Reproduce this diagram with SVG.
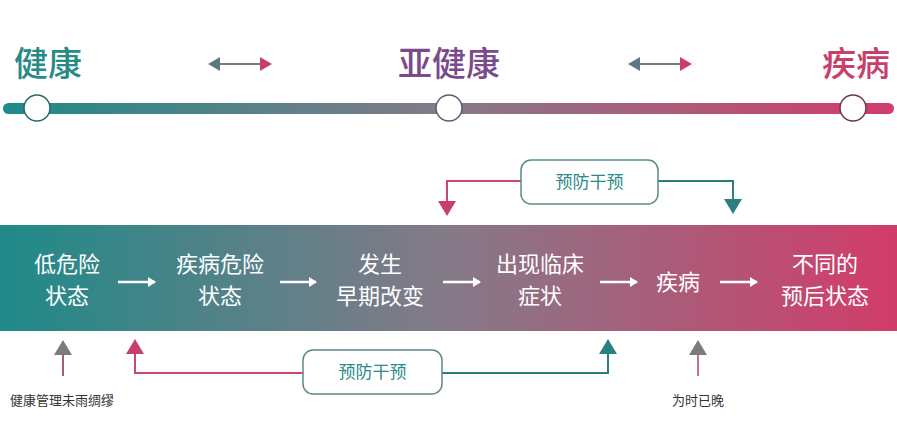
<svg xmlns="http://www.w3.org/2000/svg" width="897" height="446" viewBox="0 0 897 446">
<defs>
<linearGradient id="g" x1="0" x2="1" y1="0" y2="0"><stop offset="0" stop-color="#1f8a88"/><stop offset="0.5" stop-color="#857a88"/><stop offset="1" stop-color="#d23c6a"/></linearGradient>
<marker id="wa" markerWidth="8" markerHeight="10" refX="7" refY="5" orient="auto" markerUnits="userSpaceOnUse"><path d="M0,0 L8,5 L0,10 Z" fill="#fff"/></marker>
</defs>
<style>
text{font-family:"Noto Sans CJK SC",sans-serif}
.t{font-size:34px;font-weight:500}
.w{fill:#fff;font-size:22px;text-anchor:middle}
.box{fill:#fff;stroke:#5a8a8c;stroke-width:1.5}
.bl{fill:#2a8a85;font-size:17px;text-anchor:middle}
.pk{stroke:#c8486e;stroke-width:2;fill:none}
.tl{stroke:#2a8080;stroke-width:2;fill:none}
.arr{stroke:#fff;stroke-width:2.5}
.sm{font-size:13px;fill:#333}
</style>
<g id="top">
<text x="14" y="76" class="t" fill="#2a8a85">健康</text>
<text x="449" y="76" class="t" fill="#7a4a8a" text-anchor="middle">亚健康</text>
<text x="890" y="76" class="t" fill="#c8406a" text-anchor="end">疾病</text>
<rect x="3" y="103" width="891" height="11" rx="5.5" fill="url(#g)"/>
<circle cx="37" cy="108" r="13" fill="#fff" stroke="#2a6a6a" stroke-width="1.5"/>
<circle cx="449" cy="108" r="13" fill="#fff" stroke="#5a6070" stroke-width="1.5"/>
<circle cx="853" cy="108" r="13" fill="#fff" stroke="#6a3a50" stroke-width="1.5"/>
</g>
<g id="connectors">
<line x1="215" y1="64" x2="265" y2="64" stroke="#7a7a85" stroke-width="2"/>
<path d="M208,64 L220,57 L220,71 Z" fill="#5a7a80"/><path d="M272,64 L260,57 L260,71 Z" fill="#c8406a"/>
<line x1="635" y1="64" x2="685" y2="64" stroke="#7a7a85" stroke-width="2"/>
<path d="M628,64 L640,57 L640,71 Z" fill="#5a7a80"/><path d="M692,64 L680,57 L680,71 Z" fill="#c8406a"/>
<polyline class="pk" points="521,181 447,181 447,203"/>
<path d="M438,201 L456,201 L447,216 Z" fill="#c8406a"/>
<polyline class="tl" points="658,181 733,181 733,200"/>
<path d="M724,199 L742,199 L733,214 Z" fill="#2a8080"/>
<polyline class="pk" points="303,373 135,373 135,352"/>
<path d="M126,354 L144,354 L135,339 Z" fill="#c8406a"/>
<polyline class="tl" points="442,373 608,373 608,352"/>
<path d="M599,354 L617,354 L608,339 Z" fill="#2a8080"/>
<line x1="63" y1="376" x2="63" y2="352" stroke="#a06070" stroke-width="2"/>
<path d="M54,355 L72,355 L63,340 Z" fill="#7a7a80"/>
<line x1="698" y1="376" x2="698" y2="352" stroke="#c8708a" stroke-width="2"/>
<path d="M689,355 L707,355 L698,340 Z" fill="#7a7a80"/>
</g>
<g id="band">
<rect x="0" y="225" width="897" height="106" fill="url(#g)"/>
<line class="arr" x1="118" y1="282" x2="155" y2="282" marker-end="url(#wa)"/>
<line class="arr" x1="280" y1="282" x2="316" y2="282" marker-end="url(#wa)"/>
<line class="arr" x1="443" y1="282" x2="480" y2="282" marker-end="url(#wa)"/>
<line class="arr" x1="600" y1="282" x2="637" y2="282" marker-end="url(#wa)"/>
<line class="arr" x1="720" y1="282" x2="757" y2="282" marker-end="url(#wa)"/>
</g>
<g id="n1"><text class="w" x="67" y="272">低危险</text><text class="w" x="67" y="304">状态</text></g>
<g id="n2"><text class="w" x="220" y="272">疾病危险</text><text class="w" x="220" y="304">状态</text></g>
<g id="n3"><text class="w" x="380" y="272">发生</text><text class="w" x="380" y="304">早期改变</text></g>
<g id="n4"><text class="w" x="540" y="272">出现临床</text><text class="w" x="540" y="304">症状</text></g>
<g id="n5"><text class="w" x="678" y="290">疾病</text></g>
<g id="n6"><text class="w" x="825" y="272">不同的</text><text class="w" x="825" y="304">预后状态</text></g>
<g id="box1"><rect class="box" x="521" y="160" width="137" height="44" rx="10"/><text class="bl" x="589.5" y="188">预防干预</text></g>
<g id="box2"><rect class="box" x="303" y="350" width="139" height="44" rx="10"/><text class="bl" x="372.5" y="378">预防干预</text></g>
<g id="notes">
<text class="sm" x="10" y="405">健康管理未雨绸缪</text>
<text class="sm" x="698" y="405" text-anchor="middle">为时已晚</text>
</g>
</svg>
